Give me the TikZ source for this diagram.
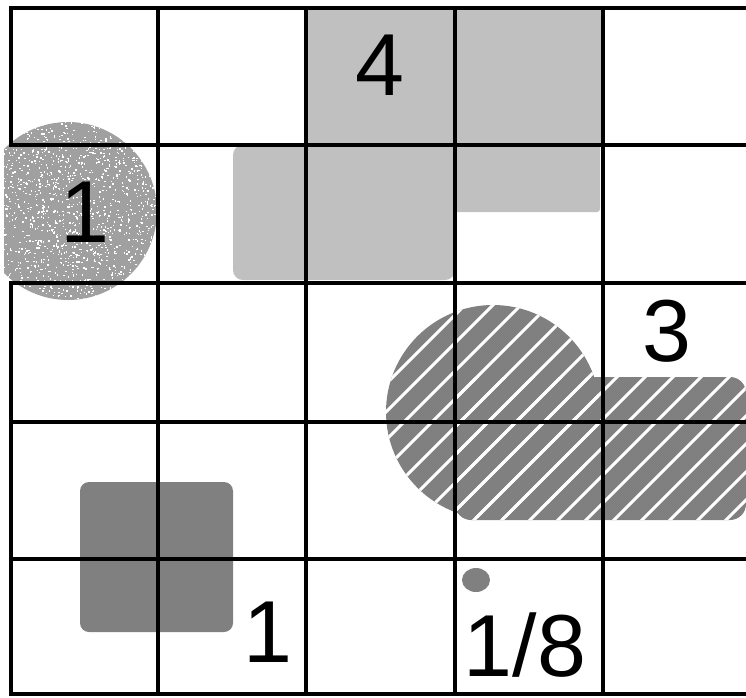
\documentclass[tikz,border=0pt]{standalone}
\usepackage{fontspec}
\setmainfont{Liberation Sans}
\usepackage{xcolor}
\definecolor{shadelight}{HTML}{C0C0C0}
\definecolor{shadedark}{HTML}{808080}
\definecolor{stipplegray}{HTML}{A0A0A0}

\tikzset{
  gridline/.style={line width=4.7pt, black},
  hatchline/.style={white, line width=3pt},
  bignum/.style={font=\fontsize{88}{88}\selectfont, inner sep=0pt}
}
\newcommand{\hatchrows}{%
  \foreach \k in {0,...,24} \draw[hatchline] (118+28*\k,540) -- ++(260,-260);}

\begin{document}
\begin{tikzpicture}[x=1pt, y=-1pt]
    \useasboundingbox (0,0) rectangle (746,697);
    \fill[white] (0,0) rectangle (746,697);
    % light block at the top
    \fill[shadelight] (306,8) rectangle (603,147);
    \fill[shadelight, rounded corners=3pt] (450,145) rectangle (600,212);
    \fill[shadelight, rounded corners=10pt] (233,145) rectangle (455,280);
    % stippled disc
    \begin{scope}
      \clip (4,100) rectangle (160,320);
      \fill[stipplegray] (68,211) circle[radius=89];
      \clip (68,211) circle[radius=89];
      \pgfmathsetseed{42}
      \foreach \k in {1,...,1700}
        \fill[white] (68+90*rand,211+90*rand) rectangle ++(1.4,1.4);
    \end{scope}
    % hatched blob
    \fill[shadedark] (493,412) circle[radius=107];
    \fill[shadedark, rounded corners=16pt] (455,377) rectangle (746,520);
    \begin{scope}
      \clip (493,412) circle[radius=107];
      \hatchrows
    \end{scope}
    \begin{scope}
      \clip[rounded corners=16pt] (455,377) rectangle (746,520);
      \hatchrows
    \end{scope}
    % dark square and dot
    \fill[shadedark, rounded corners=9pt] (80,482) rectangle (233,632);
    \fill[shadedark] (476,580) ellipse[x radius=14, y radius=12];
    % grid
    \foreach \gx in {158,306,455,603}
      \draw[gridline] (\gx,8) -- (\gx,694);
    \draw[gridline] (11,8) -- (11,145) (11,283) -- (11,694);
    \foreach \gy in {8,145,283,422,559,694}
      \draw[gridline] (9,\gy) -- (746,\gy);
    % labels
    \node[bignum] (four) at (380,65) {4};
    \node[bignum] (discone) at (85,212) {1};
    \node[bignum] (three) at (667,331) {3};
    \node[bignum] (squareone) at (268,632) {1};
    \node[bignum] (eighth) at (525,645) {1/8};
\end{tikzpicture}
\end{document}
